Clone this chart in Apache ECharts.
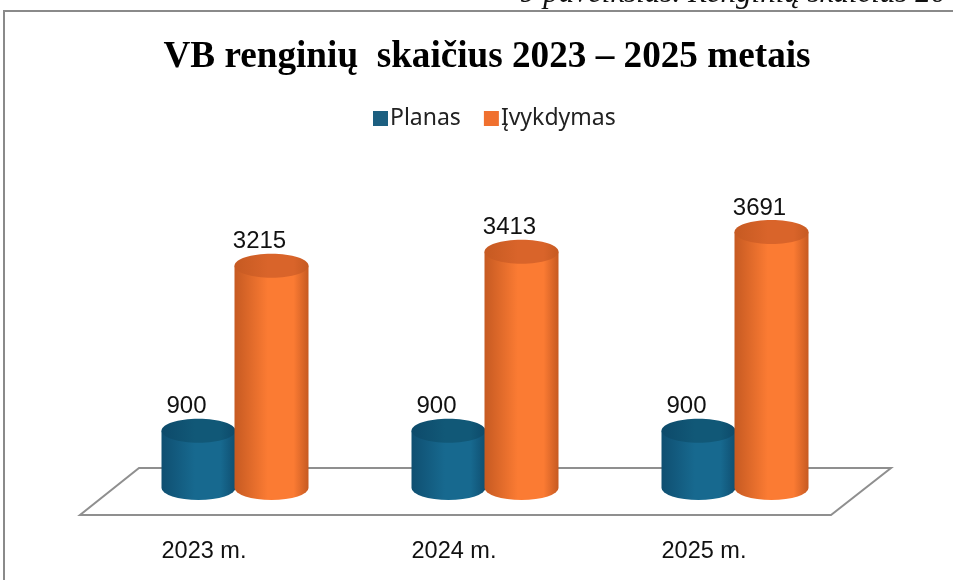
<!DOCTYPE html>
<html>
<head>
<meta charset="utf-8">
<script src="https://cdn.jsdelivr.net/npm/echarts@6/dist/echarts.min.js"></script>
<style>
  html, body { margin: 0; padding: 0; background: #fff; }
  #chart { width: 953px; height: 580px; }
</style>
</head>
<body>
<div id="chart"></div>
<script>
var categories = ['2023 m.', '2024 m.', '2025 m.'];
var planas = [900, 900, 900];
var ivykdymas = [3215, 3413, 3691];

var chart = echarts.init(document.getElementById('chart'));

function grad(edge, mid) {
  return new echarts.graphic.LinearGradient(0, 0, 1, 0, [
    { offset: 0, color: edge },
    { offset: 0.45, color: mid },
    { offset: 0.8, color: mid },
    { offset: 1, color: edge }
  ]);
}

// cilindras: korpusas + virsus, pozicija is asiu
function cylinder(side, colors) {
  return function (params, api) {
    var top = api.coord([api.value(0), api.value(1)]);
    var zero = api.coord([api.value(0), 0]);
    var band = api.size([1, 0])[0];
    var rx = band * 0.148;
    var ry = 12;
    var cx = top[0] + side * band * 0.146;
    var bottom = zero[1] - 7;
    return {
      type: 'group',
      children: [
        {
          type: 'path',
          shape: {
            pathData: 'M' + (cx - rx) + ' ' + top[1] +
              ' L' + (cx - rx) + ' ' + bottom +
              ' A' + rx + ' ' + ry + ' 0 0 0 ' + (cx + rx) + ' ' + bottom +
              ' L' + (cx + rx) + ' ' + top[1] + ' Z'
          },
          style: { fill: grad(colors[0], colors[1]) }
        },
        {
          type: 'ellipse',
          shape: { cx: cx, cy: top[1], rx: rx, ry: ry },
          style: { fill: grad(colors[2], colors[3]) }
        },
        {
          type: 'text',
          style: {
            x: cx - 12,
            y: top[1] - 24,
            text: String(api.value(1)),
            fill: '#111',
            font: '24px "Liberation Sans"',
            align: 'center',
            verticalAlign: 'middle'
          }
        }
      ]
    };
  };
}

chart.setOption({
  animation: false,
  backgroundColor: '#fff',
  title: {
    text: 'VB renginių  skaičius 2023 – 2025 metais',
    left: 482,
    top: 34,
    textAlign: 'center',
    textStyle: { fontFamily: 'Liberation Serif', fontWeight: 'bold', fontSize: 37.2, color: '#000' }
  },
  legend: {
    left: 368,
    top: 102,
    icon: 'rect',
    itemWidth: 15,
    itemHeight: 15,
    itemGap: 23,
    textStyle: { fontFamily: 'Noto Sans', fontSize: 23, color: '#222', padding: [0, 0, 0, -3] },
    data: ['Planas', 'Įvykdymas']
  },
  grid: { left: 110, right: 93, top: 60, bottom: 85 },
  xAxis: {
    type: 'category',
    data: categories,
    axisLine: { show: false },
    axisTick: { show: false },
    axisLabel: {
      margin: 45,
      padding: [0, 62, 0, 0],
      fontFamily: 'Liberation Sans',
      fontSize: 23.5,
      color: '#111'
    }
  },
  yAxis: { type: 'value', min: 0, max: 6103, show: false },
  graphic: [
    {
      type: 'text',
      left: 520,
      top: -22,
      style: {
        text: '9 paveikslas. Renginių skaičius 20',
        font: 'italic 31px "Liberation Serif"',
        fill: '#111'
      }
    },
    {
      type: 'rect',
      z: 1,
      shape: { x: 0, y: 11, width: 953, height: 4 },
      style: { fill: '#fff' }
    },
    {
      type: 'polyline',
      z: 2,
      shape: { points: [[4, 580], [4, 11], [953, 11]] },
      style: { stroke: '#8a8a8a', fill: null, lineWidth: 2 }
    },
    {
      type: 'polygon',
      z: -1,
      shape: { points: [[80, 515], [831, 515], [891, 468], [139, 468]] },
      style: { stroke: '#8f8f8f', fill: '#fff', lineWidth: 2 }
    }
  ],
  series: [
    {
      name: 'Planas',
      type: 'custom',
      itemStyle: { color: '#1c5f80' },
      renderItem: cylinder(-1, ['#0f4f71', '#17698f', '#0d4a6a', '#115877']),
      encode: { x: 0, y: 1 },
      data: planas.map(function (v, i) { return [i, v]; })
    },
    {
      name: 'Įvykdymas',
      type: 'custom',
      itemStyle: { color: '#f0702f' },
      renderItem: cylinder(1, ['#c65a22', '#fb7b33', '#c65a22', '#d9642a']),
      encode: { x: 0, y: 1 },
      data: ivykdymas.map(function (v, i) { return [i, v]; })
    }
  ]
});
</script>
</body>
</html>
